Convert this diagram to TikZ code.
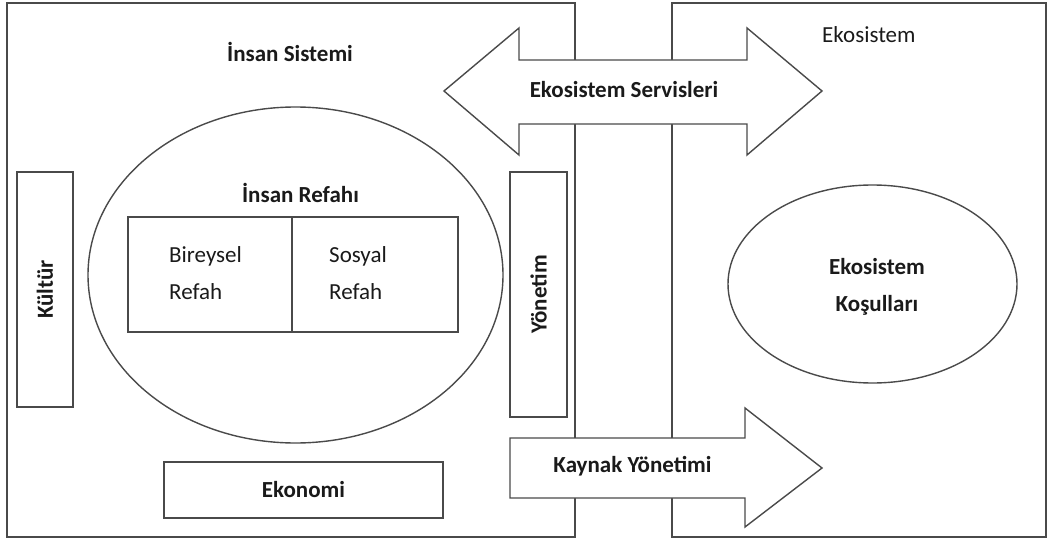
\documentclass[tikz,border=0pt]{standalone}
\usepackage{fontspec}
\setmainfont{Carlito}
\usetikzlibrary{shapes.geometric}
\definecolor{linegray}{HTML}{4A4A4A}
\definecolor{ink}{HTML}{1A1A1A}
\begin{document}
\begin{tikzpicture}[x=1pt,y=-1pt,
  frame/.style={draw=linegray, line width=1.4pt, inner sep=0pt, outer sep=0pt},
  bigarrow/.style={draw=linegray, fill=white, line width=1.4pt, line join=miter},
  boldtxt/.style={font=\fontsize{23}{37}\selectfont\bfseries, text=ink, inner sep=0pt},
  plaintxt/.style={font=\fontsize{23}{37}\selectfont, text=ink, inner sep=0pt},
  boxnode/.style={frame, rectangle, fill=white},
]
\useasboundingbox (0,0) rectangle (1053,543);

% the two systems
\node[frame, rectangle, minimum width=568pt, minimum height=534pt, anchor=north west] (human) at (7,3) {};
\node[frame, rectangle, minimum width=374pt, minimum height=534pt, anchor=north west] (eco) at (672,3) {};

% services arrow (two-headed)
\draw[bigarrow] (444,91) -- (519,28) -- (519,60) -- (747,60) -- (747,28) -- (822,91)
  -- (747,155) -- (747,124) -- (519,124) -- (519,155) -- cycle;
\node[boldtxt, anchor=base] (services) at (624,97) {Ekosistem Servisleri};

% resource management arrow
\draw[bigarrow] (510,438) -- (745,438) -- (745,408) -- (822,468) -- (745,527)
  -- (745,498) -- (510,498) -- cycle;
\node[boldtxt, anchor=base] (resource) at (632.5,472) {Kaynak Yönetimi};

% titles
\node[boldtxt, anchor=base] (humantitle) at (290,62) {İnsan Sistemi};
\node[plaintxt, anchor=base west] (ecotitle) at (822,43) {Ekosistem};

% culture and governance bars
\node[boxnode, minimum width=56pt, minimum height=235pt] (culture) at (45,289.5) {};
\node[boldtxt, rotate=90] (culturetxt) at (culture.center) {Kültür};
\node[boxnode, minimum width=57pt, minimum height=245pt] (gov) at (538.5,294.5) {};
\node[boldtxt, rotate=90] (govtxt) at (gov.center) {Yönetim};

% economy bar
\node[boxnode, minimum width=279pt, minimum height=56pt] (economy) at (303.5,490) {};
\node[boldtxt, anchor=base] (economytxt) at (303.5,497) {Ekonomi};

% human well-being
\node[frame, ellipse, minimum width=415pt, minimum height=336pt] (wellbeing) at (295.5,275) {};
\node[boldtxt, anchor=base] (wellbeingtxt) at (300.5,202) {İnsan Refahı};
\node[frame, rectangle, minimum width=164pt, minimum height=115pt, anchor=north west] (indiv) at (128,217) {};
\node[frame, rectangle, minimum width=166pt, minimum height=115pt, anchor=north west] (social) at (292,217) {};
\node[plaintxt, align=left, anchor=west] (indivtxt) at (169,273) {Bireysel\\Refah};
\node[plaintxt, align=left, anchor=west] (socialtxt) at (329,273) {Sosyal\\Refah};

% ecosystem conditions
\node[frame, ellipse, minimum width=289pt, minimum height=198pt] (conditions) at (872.5,284) {};
\node[boldtxt, align=center] (conditionstxt) at (877,287) {Ekosistem\\Koşulları};
\end{tikzpicture}
\end{document}
